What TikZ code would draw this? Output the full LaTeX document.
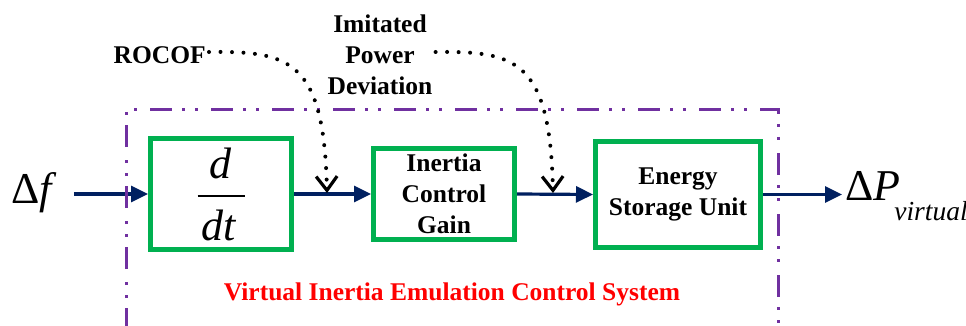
\documentclass[tikz,border=0pt]{standalone}
\usepackage{fontspec}
\setmainfont{Liberation Serif}
\newfontfamily\tnr{Liberation Serif}
\usetikzlibrary{arrows.meta}
\definecolor{boxgreen}{RGB}{0,176,80}
\definecolor{navy}{RGB}{0,32,96}
\definecolor{framepurple}{RGB}{112,48,160}
\begin{document}
\begin{tikzpicture}[x=1pt,y=-1pt,
  blk/.style={draw=boxgreen,line width=5pt,inner sep=0pt,outer sep=2.5pt,fill=white},
  lbl/.style={font=\tnr\bfseries\fontsize{25.5}{31}\selectfont,align=center,inner sep=0pt},
  sig/.style={draw=navy,line width=3.2pt,-{Triangle[length=17pt,width=16pt]}},
  dotarr/.style={line width=4pt,line cap=round,dash pattern=on 0pt off 11.5pt,
    -{Straight Barb[length=14pt,width=21pt,line width=3.2pt]}},
  framestyle/.style={draw=framepurple,line width=3pt,
    dash pattern=on 22pt off 10pt on 3pt off 10pt on 3pt off 13pt},
  bigmath/.style={font=\tnr\fontsize{44}{44}\selectfont,inner sep=0pt}]
\useasboundingbox (0,0) rectangle (966,326);

% blocks
\node[blk,minimum width=141pt,minimum height=111pt] (b1) at (221,194) {};
\node[blk,lbl,minimum width=141pt,minimum height=91pt] (b2) at (444,194) {Inertia\\Control\\Gain};
\node[blk,lbl,minimum width=165pt,minimum height=106pt] (b3) at (678,194.5) {Energy\\Storage Unit};

% fraction d/dt
\node[font=\tnr\fontsize{44}{44}\selectfont\itshape,anchor=base,inner sep=0pt] (num) at (220,178) {d};
\node[font=\tnr\fontsize{44}{44}\selectfont\itshape,anchor=base,inner sep=0pt] (den) at (219,240) {dt};
\draw[line width=2pt] ([xshift=-23.5pt,yshift=-2pt]b1.center) -- ([xshift=23.5pt,yshift=-2pt]b1.center);

% input / output
\node[bigmath,anchor=base west] (df) at (11,203) {Δ\textit{f}};
\node[bigmath,anchor=base west] (dp) at (845,200) {Δ\textit{P}\kern-6pt\raisebox{-20pt}{\fontsize{27.5}{27.5}\selectfont\textit{virtual}}};

% labels
\node[lbl,anchor=east] (rocof) at (206,55) {ROCOF};
\node[lbl] (ipd) at (380,55) {Imitated\\Power\\Deviation};
\node[font=\tnr\bfseries\fontsize{25.5}{31}\selectfont,text=red,inner sep=0pt] (title) at (452,294) {Virtual Inertia Emulation Control System};

% signal arrows
\coordinate (t1) at (327,193);
\coordinate (t2) at (553,193);
\draw[sig,shorten <=17pt] (df.east |- b1.west) -- (b1.west);
\draw[sig] (b1.east) -- (b2.west);
\draw[sig] (b2.east) -- (b3.west);
\draw[sig,shorten >=3pt] (b3.east) -- (b3.east -| dp.west);

% frame
\draw[framestyle] (126,330) -- (126,110) -- (778,110) -- (778,330);

% dotted arrows
\draw[dotarr] ([xshift=3pt,yshift=3pt]rocof.east) .. controls (290,51) and (324,60) .. (t1);
\draw[dotarr] ([xshift=3pt,yshift=3pt]ipd.east) .. controls (516,51) and (550,60) .. (t2);
\end{tikzpicture}
\end{document}
